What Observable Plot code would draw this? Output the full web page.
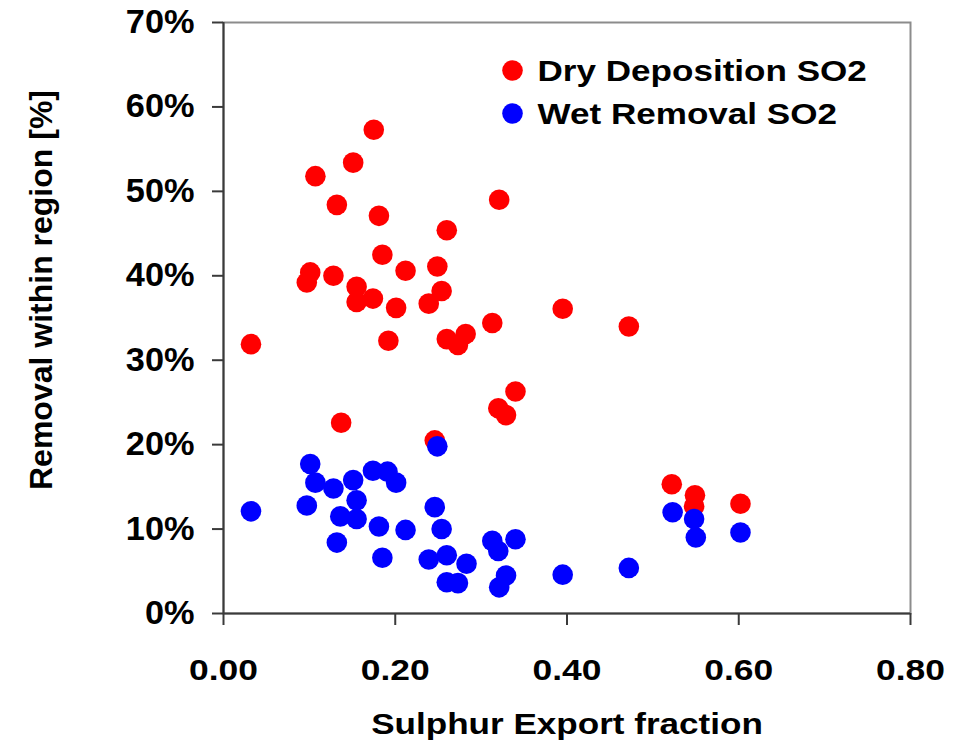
<!DOCTYPE html>
<html>
<head>
<meta charset="utf-8">
<script src="https://cdn.jsdelivr.net/npm/d3@7"></script>
<script src="https://cdn.jsdelivr.net/npm/@observablehq/plot@0.6"></script>
<style>
  html, body { margin: 0; padding: 0; background: #fff; }
  #chart svg { display: block; font-family: "Liberation Sans", Arial, sans-serif; font-weight: bold; }
</style>
</head>
<body>
<div id="chart"></div>
<script>
// Sulphur export fraction per region vs. share of SO2 removed within the region
const xTitle = "Sulphur Export fraction";
const yTitle = "Removal within region [%]";
const seriesNames = ["Dry Deposition SO2", "Wet Removal SO2"];
const seriesColors = ["#ff0000", "#0000ff"];

const xTicks = [0, 0.2, 0.4, 0.6, 0.8];
const yTicks = [0, 10, 20, 30, 40, 50, 60, 70];
const xTickFormat = d => d.toFixed(2);
const yTickFormat = d => `${d}%`;

// Dry deposition of SO2
const dryX = [0.032, 0.097, 0.101, 0.107, 0.128, 0.132, 0.137, 0.151, 0.155, 0.155, 0.174, 0.175,
              0.181, 0.185, 0.192, 0.201, 0.212, 0.239, 0.246, 0.249, 0.254, 0.260, 0.260, 0.273,
              0.282, 0.313, 0.320, 0.321, 0.329, 0.340, 0.395, 0.472, 0.522, 0.549, 0.548, 0.602];
const dryY = [31.9, 39.2, 40.4, 51.8, 40.0, 48.4, 22.6, 53.4, 38.7, 36.9, 37.3, 57.3,
              47.1, 42.5, 32.3, 36.2, 40.6, 36.7, 20.5, 41.1, 38.2, 45.4, 32.5, 31.8,
              33.1, 34.4, 24.3, 49.0, 23.5, 26.3, 36.1, 34.0, 15.3, 14.0, 12.7, 13.0];

// Wet removal of SO2
const wetX = [0.032, 0.097, 0.101, 0.107, 0.128, 0.132, 0.136, 0.151, 0.155, 0.155, 0.174, 0.181,
              0.185, 0.191, 0.201, 0.212, 0.239, 0.246, 0.249, 0.254, 0.260, 0.260, 0.273, 0.283,
              0.313, 0.320, 0.321, 0.329, 0.340, 0.395, 0.472, 0.523, 0.548, 0.550, 0.602];
const wetY = [12.1, 12.8, 17.7, 15.5, 14.8, 8.4, 11.5, 15.8, 13.4, 11.2, 16.9, 10.3,
              6.6, 16.8, 15.5, 9.9, 6.4, 12.6, 19.8, 10.0, 6.9, 3.7, 3.6, 5.9,
              8.6, 7.4, 3.1, 4.5, 8.8, 4.6, 5.4, 12.0, 11.2, 9.0, 9.6];

const dry = dryX.map((x, i) => ({x, y: dryY[i]}));
const wet = wetX.map((x, i) => ({x, y: wetY[i]}));

const xTickFs = 30, yTickFs = 33, xTitleFs = 30, yTitleFs = 32, legendFs = 29;

// one legend row: swatch dot + label, placed from the top-left of the frame
const legendRow = (i, rowDy) => [
  Plot.dot([seriesNames[i]], {frameAnchor: "top-left", dx: 289, dy: rowDy, r: 10.3, fill: seriesColors[i]}),
  Plot.text([seriesNames[i]], {frameAnchor: "top-left", dx: 314, dy: rowDy + 1, textAnchor: "start",
                               lineAnchor: "middle", fontSize: legendFs, fill: "#000"})
];

const chart = Plot.plot({
  width: 964,
  height: 748,
  marginLeft: 223,
  marginRight: 54,
  marginTop: 22,
  marginBottom: 135,
  style: {fontSize: `${yTickFs}px`, fontFamily: "Liberation Sans, Arial, sans-serif", fontWeight: "bold", color: "#000"},
  x: {domain: [xTicks[0], xTicks[xTicks.length - 1]]},
  y: {domain: [yTicks[0], yTicks[yTicks.length - 1]]},
  marks: [
    Plot.frame({stroke: "#8c8c8c", strokeWidth: 2}),
    Plot.ruleX([xTicks[0]], {stroke: "#3a3a3a", strokeWidth: 2}),
    Plot.ruleY([yTicks[0]], {stroke: "#3a3a3a", strokeWidth: 2}),
    Plot.axisX({ticks: xTicks, tickFormat: xTickFormat, tickSize: 12, tickPadding: 33,
                stroke: "#3a3a3a", strokeWidth: 2, fontSize: xTickFs, label: null}),
    Plot.axisY({ticks: yTicks, tickFormat: yTickFormat, tickSize: 11, tickPadding: 18,
                stroke: "#3a3a3a", strokeWidth: 2, fontSize: yTickFs, label: null}),
    Plot.dot(dry, {x: "x", y: "y", r: 10.3, fill: seriesColors[0]}),
    Plot.dot(wet, {x: "x", y: "y", r: 10.3, fill: seriesColors[1]}),
    ...legendRow(0, 48),
    ...legendRow(1, 91),
    Plot.text([xTitle], {frameAnchor: "bottom", dy: 111, textAnchor: "middle", lineAnchor: "middle",
                         fontSize: xTitleFs, fill: "#000"}),
    Plot.text([yTitle], {frameAnchor: "left", dx: -182, dy: -28, rotate: -90, textAnchor: "middle",
                         lineAnchor: "middle", fontSize: yTitleFs, fill: "#000"})
  ]
});

document.getElementById("chart").appendChild(chart);

// the horizontal labels are set in a wide bold face: widen the glyphs per label group,
// scaling about each label's own anchor point
const widen = new Map();
xTicks.forEach(t => widen.set(xTickFormat(t), 1.18));
yTicks.forEach(t => widen.set(yTickFormat(t), 1.04));
widen.set(xTitle, 1.17);
seriesNames.forEach(n => widen.set(n, 1.21));
chart.querySelectorAll("text").forEach(el => {
  const k = widen.get(el.textContent);
  if (!k) return;
  const ax = parseFloat(el.getAttribute("x")) || 0;
  const prev = el.getAttribute("transform") || "";
  el.setAttribute("transform", `${prev} translate(${ax},0) scale(${k},1) translate(${-ax},0)`.trim());
});
</script>
</body>
</html>
